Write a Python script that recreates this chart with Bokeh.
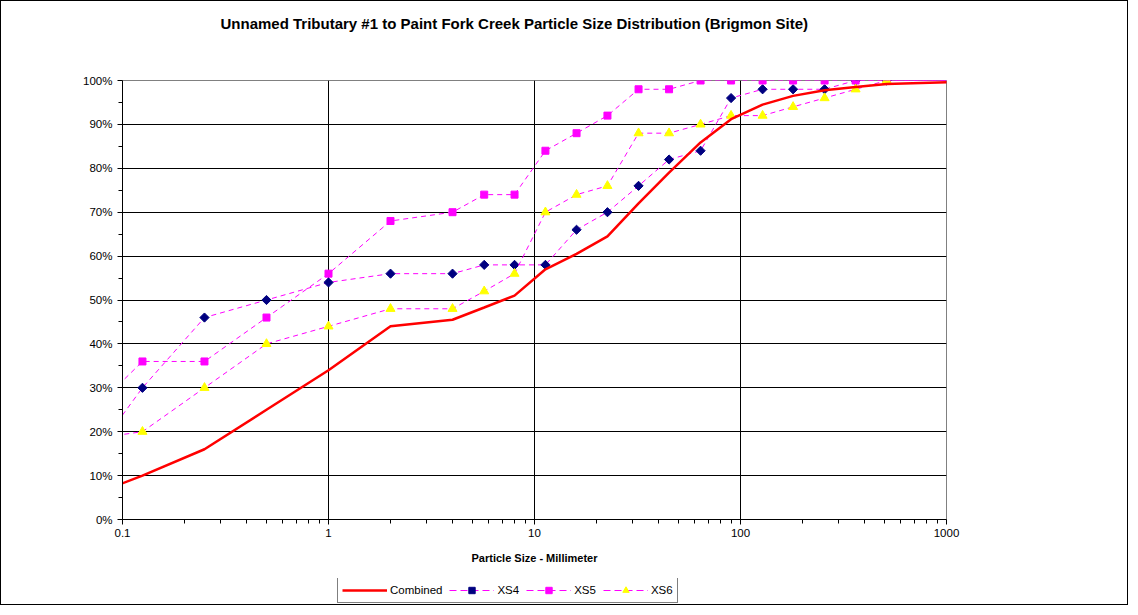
from bokeh.plotting import figure
from bokeh.layouts import column
from bokeh.models import (FixedTicker, CustomJSTickFormatter, PrintfTickFormatter,
                          Legend, LegendItem, Title, ColumnDataSource)
from bokeh.embed import file_html
from bokeh.resources import INLINE

# ---- data ----
sizes = [0.062, 0.125, 0.25, 0.5, 1, 2, 4, 5.7, 8, 11.3, 16, 22.6, 32, 45, 64, 90,
         128, 180, 256, 362, 512, 1024]
combined = [4.5, 10, 16, 25, 34, 44, 45.5, 48.3, 51, 57, 60.5, 64.5, 72, 79, 85.9, 91.2,
            94.5, 96.5, 97.8, 98.5, 99.2, 99.6]
xs4 = [10.5, 30, 46, 50, 54, 56, 56, 58, 58, 58, 66, 70, 76, 82, 84, 96,
       98, 98, 98, 100, 100, 100]
xs5 = [22, 36, 36, 46, 56, 68, 70, 74, 74, 84, 88, 92, 98, 98, 100, 100,
       100, 100, 100, 100, 100, 100]
xs6 = [18, 20, 30, 40, 44, 48, 48, 52, 56, 70, 74, 76, 88, 88, 90, 92,
       92, 94, 96, 98, 100, 100]
series_names = ["Combined", "XS4", "XS5", "XS6"]
x_ticks = [0.1, 1, 10, 100, 1000]
y_ticks = [0, 10, 20, 30, 40, 50, 60, 70, 80, 90, 100]

FONT = "Liberation Sans"
W = 1126
H_MAIN = 577
H_LEG = 26

p = figure(width=W, height=H_MAIN, x_axis_type="log", x_range=(0.1, 1000), y_range=(0, 100),
           output_backend="svg", toolbar_location=None,
           min_border_left=121, min_border_right=181, min_border_top=79, min_border_bottom=59)
p.background_fill_color = "white"
p.border_fill_color = "white"
p.outline_line_color = "#808080"

# spacer (nearest the frame) then the title above it
spacer = Title(text=" ", text_font_size="1px", standoff=46)
p.add_layout(spacer, "above")
t = Title(text="Unnamed Tributary #1 to Paint Fork Creek Particle Size Distribution (Brigmon Site)",
          align="left", offset=98, standoff=0, text_font=FONT, text_font_size="15px",
          text_font_style="bold", text_color="black")
p.add_layout(t, "above")

# axes
minor_x = []
for d in [0.1, 1, 10, 100]:
    minor_x += [d * k for k in range(2, 10)]
xt = FixedTicker(ticks=x_ticks, minor_ticks=minor_x)
p.xaxis.ticker = xt
p.xgrid.ticker = xt
p.xaxis.formatter = CustomJSTickFormatter(code="return String(tick);")
yt = FixedTicker(ticks=y_ticks, minor_ticks=[v + 5 for v in y_ticks[:-1]])
p.yaxis.ticker = yt
p.ygrid.ticker = yt
p.yaxis.formatter = PrintfTickFormatter(format="%d%%")

for ax in (p.xaxis, p.yaxis):
    ax.axis_line_color = "black"
    ax.major_tick_line_color = "black"
    ax.minor_tick_line_color = "black"
    ax.major_tick_in = 0
    ax.major_tick_out = 5
    ax.minor_tick_in = 0
    ax.minor_tick_out = 4
    ax.major_label_text_font = FONT
    ax.major_label_text_font_size = "11.5px"
    ax.major_label_text_color = "black"
p.xaxis.major_label_standoff = 4
p.yaxis.major_label_standoff = 5
p.xaxis.axis_label = "Particle Size - Millimeter"
p.xaxis.axis_label_text_font = FONT
p.xaxis.axis_label_text_font_size = "11px"
p.xaxis.axis_label_text_font_style = "bold"
p.xaxis.axis_label_text_color = "black"
p.xaxis.axis_label_standoff = 12

p.xgrid.grid_line_color = "black"
p.ygrid.grid_line_color = "black"
p.xgrid.grid_line_width = 1
p.ygrid.grid_line_width = 1

# data sources
src = ColumnDataSource(dict(x=sizes, c=combined, a=xs4, b=xs5, d=xs6))
vis = [i for i, s in enumerate(sizes) if 0.1 <= s <= 1000]
msrc = ColumnDataSource(dict(x=[sizes[i] for i in vis], a=[xs4[i] for i in vis],
                             b=[xs5[i] for i in vis], d=[xs6[i] for i in vis]))

DASH = "5 4"
PINK = "#FF00FF"
NAVY = "#000080"
YEL = "#FFFF00"
RED = "#FF0000"

p.line("x", "a", source=src, line_color=PINK, line_width=1, line_dash=DASH)
p.scatter("x", "a", source=msrc, marker="square", angle=45, angle_units="deg", size=6.5,
          fill_color=NAVY, line_color=NAVY)
p.line("x", "b", source=src, line_color=PINK, line_width=1, line_dash=DASH)
p.scatter("x", "b", source=msrc, marker="square", size=7, fill_color=PINK, line_color=PINK)
p.line("x", "d", source=src, line_color=PINK, line_width=1, line_dash=DASH)
p.scatter("x", "d", source=msrc, marker="triangle", size=9, fill_color=YEL, line_color=YEL)
p.line("x", "c", source=src, line_color=RED, line_width=2.5)

# legend strip (separate small figure so the legend is not clipped);
# its proxy glyphs sit outside the strip's ranges, so only the legend shows them
q = figure(width=W, height=H_LEG, output_backend="svg", toolbar_location=None,
           min_border=0, x_range=(0, 1), y_range=(0, 1))
q.axis.visible = False
q.grid.visible = False
q.outline_line_color = None
q.background_fill_color = "white"
q.border_fill_color = "white"
off = dict(x=[-5, -4], y=[-5, -5])
qc = q.line(x=off["x"], y=off["y"], line_color=RED, line_width=2.5)
q4 = q.line(x=off["x"], y=off["y"], line_color=PINK, line_width=1, line_dash="7 4")
q4m = q.scatter(x=off["x"], y=off["y"], marker="square", angle=45, angle_units="deg", size=5.5,
                fill_color=NAVY, line_color=NAVY)
q5 = q.line(x=off["x"], y=off["y"], line_color=PINK, line_width=1, line_dash="7 4")
q5m = q.scatter(x=off["x"], y=off["y"], marker="square", size=6, fill_color=PINK, line_color=PINK)
q6 = q.line(x=off["x"], y=off["y"], line_color=PINK, line_width=1, line_dash="7 4")
q6m = q.scatter(x=off["x"], y=off["y"], marker="triangle", size=7.5, fill_color=YEL, line_color=YEL)

legend = Legend(items=[LegendItem(label=series_names[0], renderers=[qc]),
                       LegendItem(label=series_names[1], renderers=[q4, q4m]),
                       LegendItem(label=series_names[2], renderers=[q5, q5m]),
                       LegendItem(label=series_names[3], renderers=[q6, q6m])],
                orientation="horizontal", location=(215, 1), margin=0,
                border_line_color="black", border_line_width=1, padding=4, spacing=7,
                glyph_width=45, glyph_height=16, label_standoff=3,
                label_text_font=FONT, label_text_font_size="11.5px",
                label_text_color="black", background_fill_color="white",
                background_fill_alpha=1)
q.add_layout(legend, "center")

layout = column(p, q, spacing=0)
layout.styles = {"border": "1px solid black", "background-color": "white"}

open("out.html", "w").write(file_html(layout, INLINE))
